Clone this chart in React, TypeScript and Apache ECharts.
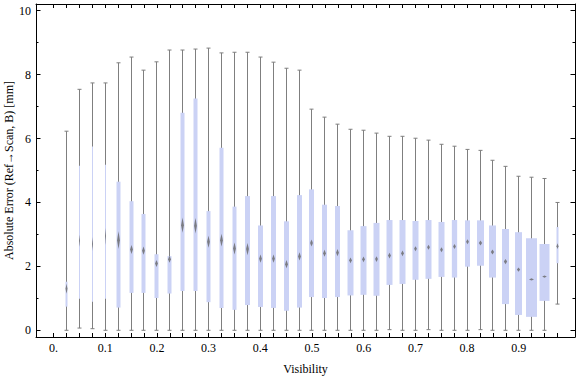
import React, { useEffect, useRef } from "react";
import * as echarts from "echarts";

// ---- data ----
const visibility = [
  0.025, 0.05, 0.075, 0.1, 0.125, 0.15, 0.175, 0.2, 0.225, 0.25,
  0.275, 0.3, 0.325, 0.35, 0.375, 0.4, 0.425, 0.45, 0.475, 0.5,
  0.525, 0.55, 0.575, 0.6, 0.625, 0.65, 0.675, 0.7, 0.725, 0.75,
  0.775, 0.8, 0.825, 0.85, 0.875, 0.9, 0.925, 0.95, 0.975,
];
const whiskerMax = [
  6.23, 7.54, 7.74, 7.74, 8.37, 8.55, 8.14, 8.4, 8.77, 8.77,
  8.8, 8.83, 8.68, 8.7, 8.7, 8.55, 8.39, 8.2, 8.14, 6.92,
  6.67, 6.45, 6.29, 6.26, 6.17, 6.07, 6.07, 6.01, 5.95, 5.82,
  5.76, 5.66, 5.63, 5.32, 5.13, 4.82, 4.79, 4.75, 4.0,
];
const upperQuartile = [
  1.52, 5.15, 5.75, 5.18, 4.65, 4.04, 3.64, 2.38, 2.32, 6.81,
  7.25, 3.73, 5.71, 3.87, 4.2, 3.28, 4.2, 3.41, 4.23, 4.41,
  3.93, 3.89, 3.13, 3.26, 3.36, 3.45, 3.45, 3.42, 3.45, 3.39,
  3.45, 3.44, 3.44, 3.28, 3.17, 3.07, 2.88, 2.7, 3.23,
];
const median = [
  1.3, 2.8, 2.7, 2.95, 2.82, 2.53, 2.49, 2.09, 2.22, 3.29,
  3.27, 2.77, 2.82, 2.56, 2.54, 2.24, 2.24, 2.07, 2.31, 2.73,
  2.41, 2.43, 2.19, 2.22, 2.23, 2.34, 2.41, 2.55, 2.6, 2.52,
  2.62, 2.77, 2.73, 2.45, 2.15, 1.9, 1.59, 1.68, 2.63,
];
const lowerQuartile = [
  0.74, 0.99, 0.89, 0.99, 0.71, 1.17, 1.17, 1.01, 1.15, 1.23,
  1.23, 0.88, 0.7, 0.64, 0.79, 0.73, 0.7, 0.61, 0.71, 1.04,
  1.01, 1.04, 1.09, 1.11, 1.08, 1.42, 1.45, 1.58, 1.61, 1.67,
  1.65, 1.99, 2.02, 1.65, 0.82, 0.48, 0.42, 0.92, 2.1,
];
const whiskerMin = [
  0, 0.07, 0.05, 0, 0, 0, 0, 0, 0, 0,
  0, 0, 0, 0, 0, 0, 0, 0, 0, 0,
  0, 0, 0, 0, 0, 0.02, 0, 0, 0.02, 0,
  0, 0, 0.02, 0, 0, 0, 0, 0, 0.82,
];
// relative box weight (box width follows sample size)
const sampleWeight = [
  2, 1, 1, 1, 4, 4, 4, 4, 4, 4,
  4, 4, 4, 4, 5, 5, 5, 5, 5, 5,
  5, 5, 6, 6, 6, 6, 6, 6, 6, 6,
  5.3, 5, 7, 7, 7, 7, 11, 10, 2,
];
// half-extent of the median marker (median confidence interval), in mm
const medianCI = [
  0.16, 0.19, 0.22, 0.27, 0.28, 0.14, 0.13, 0.11, 0.11, 0.24,
  0.24, 0.19, 0.2, 0.19, 0.19, 0.13, 0.13, 0.13, 0.13, 0.11,
  0.11, 0.11, 0.09, 0.09, 0.09, 0.09, 0.09, 0.08, 0.08, 0.08,
  0.08, 0.08, 0.08, 0.08, 0.08, 0.065, 0.035, 0.035, 0.09,
];

const xLabelValues = [0, 0.1, 0.2, 0.3, 0.4, 0.5, 0.6, 0.7, 0.8, 0.9];
const xTickLabels = ["0.", "0.1", "0.2", "0.3", "0.4", "0.5", "0.6", "0.7", "0.8", "0.9"];
const xTickValues = [0, ...visibility];
const yMajorTicks = [0, 2, 4, 6, 8, 10];
const yMinorTicks = [1, 3, 5, 7, 9];

const X_MIN = -0.0338;
const X_MAX = 1.0087;
const Y_MIN = -0.21;
const Y_MAX = 10.21;

const FONT = "'Liberation Serif', 'Times New Roman', 'DejaVu Serif', serif";
const BOX_COLOR = "#cbd2f5";
const WHISKER_COLOR = "#7f7f7f";
const MEDIAN_COLOR = "#666666";

export default function App() {
  const ref = useRef<HTMLDivElement>(null);

  useEffect(() => {
    document.body.style.margin = "0";
    if (!ref.current) return;
    const chart = echarts.init(ref.current, undefined, { renderer: "svg" });

    const data = visibility.map((v, i) => [
      v,
      whiskerMin[i],
      lowerQuartile[i],
      median[i],
      upperQuartile[i],
      whiskerMax[i],
      sampleWeight[i],
      medianCI[i],
    ]);

    const renderItem = (params: any, api: any) => {
      const x = api.value(0);
      const pMax = api.coord([x, api.value(5)]);
      const pMin = api.coord([x, api.value(1)]);
      const pQ1 = api.coord([x, api.value(2)]);
      const pQ3 = api.coord([x, api.value(4)]);
      const pMd = api.coord([x, api.value(3)]);
      const ci = api.value(7);
      const pCiTop = api.coord([x, api.value(3) + ci]);
      const pCiBot = api.coord([x, api.value(3) - ci]);
      const w = api.value(6);
      const cx = Math.round(pMax[0] - 0.5) + 0.5;
      const capHalf = 2;
      const mHalf = Math.min(w / 2, Math.max(1.4, 0.23 * w));
      return {
        type: "group",
        children: [
          {
            type: "line",
            shape: { x1: cx, y1: pMax[1], x2: cx, y2: pMin[1] },
            style: { stroke: WHISKER_COLOR, lineWidth: 1 },
          },
          {
            type: "line",
            shape: { x1: cx - capHalf, y1: pMax[1], x2: cx + capHalf, y2: pMax[1] },
            style: { stroke: WHISKER_COLOR, lineWidth: 1 },
          },
          {
            type: "line",
            shape: { x1: cx - capHalf, y1: pMin[1], x2: cx + capHalf, y2: pMin[1] },
            style: { stroke: WHISKER_COLOR, lineWidth: 1 },
          },
          {
            type: "rect",
            shape: { x: cx - w / 2, y: pQ3[1], width: w, height: pQ1[1] - pQ3[1] },
            style: { fill: BOX_COLOR },
          },
          {
            type: "polygon",
            shape: {
              points: [
                [cx, pCiTop[1]],
                [cx + mHalf, pMd[1]],
                [cx, pCiBot[1]],
                [cx - mHalf, pMd[1]],
              ],
            },
            style: { fill: MEDIAN_COLOR, opacity: 0.8 },
          },
        ],
      };
    };

    const baseX = {
      type: "value",
      min: X_MIN,
      max: X_MAX,
      splitLine: { show: false },
      axisLine: { show: true, onZero: false, lineStyle: { color: "#000", width: 1 } },
    };
    const baseY = {
      type: "value",
      min: Y_MIN,
      max: Y_MAX,
      splitLine: { show: false },
    };

    chart.setOption({
      animation: false,
      backgroundColor: "#fff",
      grid: {
        left: 36,
        right: 1,
        top: 4,
        bottom: 40,
        containLabel: false,
        outerBoundsMode: "none",
      },
      xAxis: [
        {
          ...baseX,
          position: "bottom",
          axisTick: {
            show: true,
            inside: true,
            length: 4,
            customValues: xTickValues,
            lineStyle: { color: "#000" },
          },
          axisLabel: {
            show: true,
            customValues: xLabelValues,
            formatter: (v: number) => {
              const i = xLabelValues.findIndex((t) => Math.abs(t - v) < 1e-9);
              return i >= 0 ? xTickLabels[i] : "";
            },
            margin: 5,
            color: "#000",
            fontFamily: FONT,
            fontSize: 12,
          },
          name: "Visibility",
          nameLocation: "middle",
          nameGap: 26,
          nameMoveOverlap: false,
          nameTextStyle: { color: "#000", fontFamily: FONT, fontSize: 12 },
        },
        {
          ...baseX,
          position: "top",
          axisTick: {
            show: true,
            inside: true,
            length: 4,
            customValues: xTickValues,
            lineStyle: { color: "#000" },
          },
          axisLabel: { show: false },
        },
      ],
      yAxis: [
        {
          ...baseY,
          position: "left",
          axisLine: { show: true, onZero: false, lineStyle: { color: "#000", width: 1 } },
          axisTick: {
            show: true,
            inside: true,
            length: 4.5,
            customValues: yMajorTicks,
            lineStyle: { color: "#000" },
          },
          axisLabel: {
            show: true,
            customValues: yMajorTicks,
            margin: 5,
            color: "#000",
            fontFamily: FONT,
            fontSize: 12,
          },
          name: "Absolute Error (Ref→Scan, B) [mm]",
          nameLocation: "middle",
          nameGap: 21,
          nameMoveOverlap: false,
          nameTextStyle: { color: "#000", fontFamily: FONT, fontSize: 12 },
        },
        {
          ...baseY,
          position: "left",
          axisLine: { show: false, onZero: false },
          axisTick: {
            show: true,
            inside: true,
            length: 2.5,
            customValues: yMinorTicks,
            lineStyle: { color: "#000" },
          },
          axisLabel: { show: false },
        },
        {
          ...baseY,
          position: "right",
          axisLine: { show: true, onZero: false, lineStyle: { color: "#000", width: 1 } },
          axisTick: {
            show: true,
            inside: true,
            length: 4.5,
            customValues: yMajorTicks,
            lineStyle: { color: "#000" },
          },
          axisLabel: { show: false },
        },
        {
          ...baseY,
          position: "right",
          axisLine: { show: false, onZero: false },
          axisTick: {
            show: true,
            inside: true,
            length: 2.5,
            customValues: yMinorTicks,
            lineStyle: { color: "#000" },
          },
          axisLabel: { show: false },
        },
      ],
      series: [
        {
          type: "custom",
          xAxisIndex: 0,
          yAxisIndex: 0,
          renderItem,
          data,
          encode: { x: 0, y: [1, 5] },
          clip: false,
        },
      ],
    });

    return () => {
      chart.dispose();
    };
  }, []);

  return <div ref={ref} style={{ width: 576, height: 377 }} />;
}
